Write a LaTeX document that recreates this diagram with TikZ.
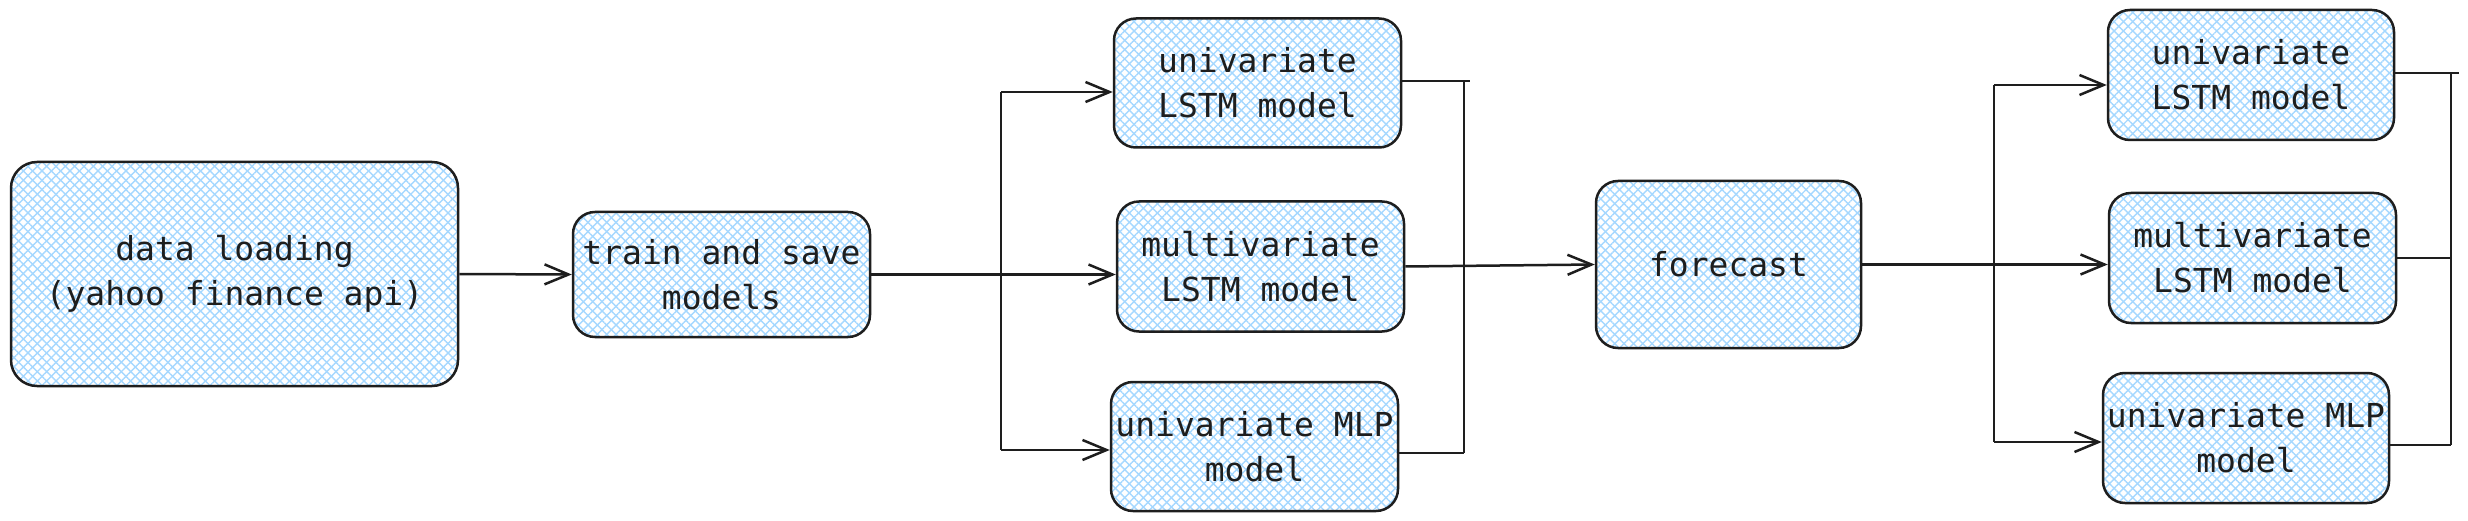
\documentclass[tikz,border=0pt]{standalone}
\usepackage{fontspec}
\setmonofont{DejaVu Sans Mono}
\usetikzlibrary{arrows.meta,patterns.meta}
\definecolor{hatch}{HTML}{A5D8FF}
\definecolor{ink}{HTML}{1E1E1E}
\begin{document}
\begin{tikzpicture}[x=1pt,y=1pt,
  box/.style={draw=ink, line width=2.5pt, rounded corners=22pt, align=center, text=ink,
    font=\ttfamily\fontsize{33}{45}\selectfont, inner sep=0pt,
    preaction={pattern={Lines[angle=45,distance=6.6pt,line width=1.4pt]}, pattern color=hatch},
    preaction={pattern={Lines[angle=-45,distance=6.6pt,line width=1.4pt]}, pattern color=hatch}},
  conn/.style={draw=ink, line width=2.5pt},
  arr/.style={conn, -{Straight Barb[length=24pt,width=20pt]}},
]
\useasboundingbox (0,0) rectangle (2468,-521);
\fill[white] (0,0) rectangle (2468,-521);

\node[box, rounded corners=26pt, minimum width=447pt, minimum height=224pt] (load) at (234.5,-274) {data loading\\(yahoo finance api)};
\node[box, minimum width=297pt, minimum height=125pt] (train) at (721.5,-274.5) {train and save\\models};
\node[box, minimum width=287pt, minimum height=129pt] (u1) at (1257.5,-83) {univariate\\LSTM model};
\node[box, minimum width=287pt, minimum height=130pt] (m1) at (1260.5,-266.5) {multivariate\\LSTM model};
\node[box, minimum width=287pt, minimum height=129pt] (p1) at (1254.5,-446.5) {univariate MLP\\model};
\node[box, minimum width=265pt, minimum height=167pt] (fc) at (1728.5,-264.5) {forecast};
\node[box, minimum width=286pt, minimum height=130pt] (u2) at (2251,-75) {univariate\\LSTM model};
\node[box, minimum width=287pt, minimum height=130pt] (m2) at (2252.5,-258) {multivariate\\LSTM model};
\node[box, minimum width=286pt, minimum height=130pt] (p2) at (2246,-438) {univariate MLP\\model};

% first stage
\draw[arr] (load.east) -- (train.west);
\coordinate (b1) at (1001,-274.5);
\coordinate (b1t) at (1001,-92);
\coordinate (b1b) at (1001,-450);
\draw[conn] (train.east) -- (b1);
\draw[conn] (b1t) -- (b1b);
\draw[arr] (b1t) -- (b1t -| u1.west);
\draw[arr] (b1) -- (b1 -| m1.west);
\draw[arr] (b1b) -- (b1b -| p1.west);

% collector 1
\coordinate (c1t) at (1464,-81);
\coordinate (c1b) at (1464,-453);
\draw[conn] (u1.east |- c1t) -- ([xshift=6pt]c1t);
\draw[conn] (p1.east |- c1b) -- (c1b);
\draw[conn] (c1t) -- (c1b);
\draw[arr] (m1.east) -- (fc.west);

% second stage
\coordinate (b2) at (1994,-264.5);
\coordinate (b2t) at (1994,-85);
\coordinate (b2b) at (1994,-442);
\draw[conn] (fc.east) -- (b2);
\draw[conn] (b2t) -- (b2b);
\draw[arr] (b2t) -- (b2t -| u2.west);
\draw[arr] (b2) -- (b2 -| m2.west);
\draw[arr] (b2b) -- (b2b -| p2.west);

% collector 2
\coordinate (c2t) at (2451,-73);
\coordinate (c2b) at (2451,-445);
\draw[conn] (u2.east |- c2t) -- ([xshift=8pt]c2t);
\draw[conn] (m2.east) -- (m2.east -| c2t);
\draw[conn] (p2.east |- c2b) -- (c2b);
\draw[conn] (c2t) -- (c2b);
\end{tikzpicture}
\end{document}
